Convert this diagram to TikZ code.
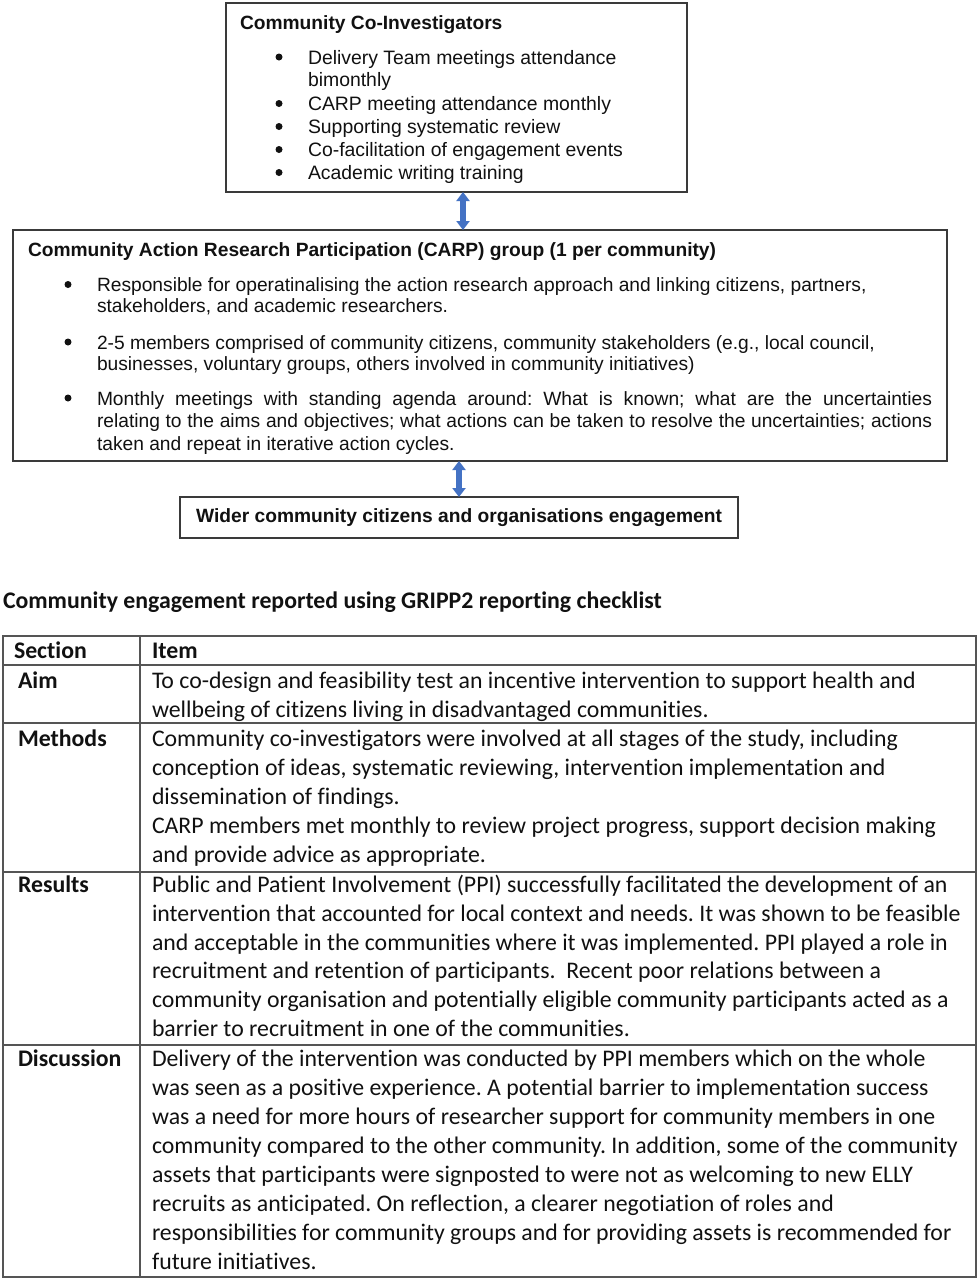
\documentclass[tikz,border=0pt]{standalone}
\usepackage{fontspec}
\setmainfont{Liberation Sans}
\newfontfamily\calfont[Ligatures=NoCommon]{Carlito}
\usetikzlibrary{arrows.meta,calc}
\definecolor{arrowblue}{HTML}{4472C4}
\definecolor{ink}{HTML}{111111}
\definecolor{frame}{HTML}{3A3A3A}
\definecolor{gridgray}{HTML}{555555}
\frenchspacing
\begin{document}
\begin{tikzpicture}[x=1pt,y=-1pt,
  box/.style={draw=frame, line width=1.4pt, inner sep=0pt, outer sep=0pt, fill=white},
  dtext/.style={anchor=base west, inner sep=0pt, outer sep=0pt, font=\fontsize{19.4}{22}\selectfont, text=ink},
  ctext/.style={anchor=base west, inner sep=0pt, outer sep=0pt, font=\fontsize{19.2}{22}\selectfont, text=ink},
  dtitle/.style={anchor=base west, inner sep=0pt, outer sep=0pt, font=\fontsize{19.2}{22}\selectfont\bfseries, text=ink},
  bul/.style={circle, fill=ink, inner sep=0pt, outer sep=0pt, minimum size=7pt},
  ttext/.style={anchor=base west, inner sep=0pt, outer sep=0pt, font=\calfont\fontsize{23.8}{29}\selectfont, text=ink},
  thead/.style={anchor=base west, inner sep=0pt, outer sep=0pt, font=\calfont\bfseries\fontsize{23.8}{29}\selectfont, text=ink},
  link/.style={{Triangle[width=13pt,length=9pt]}-{Triangle[width=13pt,length=9pt]}, line width=5.5pt, draw=arrowblue},
  grid/.style={draw=gridgray, line width=1.3pt}
]
\useasboundingbox[fill=white] (0,0) rectangle (978,1280);

% ---------- top box ----------
\node[box, minimum width=461pt, minimum height=189pt] (top) at (456.5,97.5) {};
\node[dtitle] (toptitle) at (240,29) {Community Co-Investigators};
\node[bul] (b1) at (279,57) {};
\node[dtext] (l1) at (308,64) {Delivery Team meetings attendance};
\node[dtext] (l1b) at (308,86) {bimonthly};
\node[bul] (b2) at (279,103.5) {};
\node[dtext] (l2) at (308,110.5) {CARP meeting attendance monthly};
\node[bul] (b3) at (279,126.5) {};
\node[dtext] (l3) at (308,133.5) {Supporting systematic review};
\node[bul] (b4) at (279,149.5) {};
\node[dtext] (l4) at (308,156.5) {Co-facilitation of engagement events};
\node[bul] (b5) at (279,172.5) {};
\node[dtext] (l5) at (308,179.5) {Academic writing training};

% ---------- CARP box ----------
\node[box, minimum width=934pt, minimum height=231pt] (carp) at (480,345.5) {};
\node[dtitle] (carptitle) at (28,256.5) {Community Action Research Participation (CARP) group (1 per community)};
\node[bul] (c1) at (68,284.5) {};
\node[ctext] (m1) at (97,291.5) {Responsible for operatinalising the action research approach and linking citizens, partners,};
\node[ctext] (m1b) at (97,312.5) {stakeholders, and academic researchers.};
\node[bul] (c2) at (68,342) {};
\node[ctext] (m2) at (97,349) {2-5 members comprised of community citizens, community stakeholders (e.g., local council,};
\node[ctext] (m2b) at (97,370.5) {businesses, voluntary groups, others involved in community initiatives)};
\node[bul] (c3) at (68,398) {};
\node[ctext] (m3) at (97,405) {\hbox to 835pt{Monthly meetings with standing agenda around: What is known; what are the uncertainties}};
\node[ctext] (m3b) at (97,427) {\hbox to 835pt{relating to the aims and objectives; what actions can be taken to resolve the uncertainties; actions}};
\node[ctext] (m3c) at (97,450) {taken and repeat in iterative action cycles.};

% ---------- wider box ----------
\node[box, minimum width=558pt, minimum height=41pt, font=\fontsize{19.2}{22}\selectfont\bfseries, text=ink] (wider) at (459,517.5) {Wider community citizens and organisations engagement};

% ---------- connectors ----------
\draw[link] (top.south -| 463,0) -- (carp.north -| 463,0);
\draw[link] (carp.south -| wider.north) -- (wider.north);

% ---------- heading ----------
\node[thead] (heading) at (3,608) {Community engagement reported using GRIPP2 reporting checklist};

% ---------- table ----------
\draw[grid] (3,636) rectangle (976,1277);
\draw[grid] (140,636) -- (140,1277);
\foreach \yy in {665,723,872,1045} \draw[grid] (3,\yy) -- (976,\yy);

\node[thead] (hsec) at (14,658) {Section};
\node[thead] (hitem) at (152,658) {Item};

\node[thead] (saim) at (18,688) {Aim};
\node[ttext] (a1) at (152,688) {To co-design and feasibility test an incentive intervention to support health and};
\node[ttext] (a2) at (152,717) {wellbeing of citizens living in disadvantaged communities.};

\node[thead] (smeth) at (18,746) {Methods};
\node[ttext] (me1) at (152,746) {Community co-investigators were involved at all stages of the study, including};
\node[ttext] (me2) at (152,775) {conception of ideas, systematic reviewing, intervention implementation and};
\node[ttext] (me3) at (152,804) {dissemination of findings.};
\node[ttext] (me4) at (152,833) {CARP members met monthly to review project progress, support decision making};
\node[ttext] (me5) at (152,862) {and provide advice as appropriate.};

\node[thead] (sres) at (18,892) {Results};
\node[ttext] (r1) at (152,892) {Public and Patient Involvement (PPI) successfully facilitated the development of an};
\node[ttext] (r2) at (152,921) {intervention that accounted for local context and needs. It was shown to be feasible};
\node[ttext] (r3) at (152,950) {and acceptable in the communities where it was implemented. PPI played a role in};
\node[ttext] (r4) at (152,978) {recruitment and retention of participants.\ \ Recent poor relations between a};
\node[ttext] (r5) at (152,1007) {community organisation and potentially eligible community participants acted as a};
\node[ttext] (r6) at (152,1036) {barrier to recruitment in one of the communities.};

\node[thead] (sdis) at (18,1066) {Discussion};
\node[ttext] (d1) at (152,1066) {Delivery of the intervention was conducted by PPI members which on the whole};
\node[ttext] (d2) at (152,1095) {was seen as a positive experience. A potential barrier to implementation success};
\node[ttext] (d3) at (152,1124) {was a need for more hours of researcher support for community members in one};
\node[ttext] (d4) at (152,1153) {community compared to the other community. In addition, some of the community};
\node[ttext] (d5) at (152,1182) {assets that participants were signposted to were not as welcoming to new ELLY};
\node[ttext] (d6) at (152,1211) {recruits as anticipated. On reflection, a clearer negotiation of roles and};
\node[ttext] (d7) at (152,1240) {responsibilities for community groups and for providing assets is recommended for};
\node[ttext] (d8) at (152,1269) {future initiatives.};
\end{tikzpicture}
\end{document}
